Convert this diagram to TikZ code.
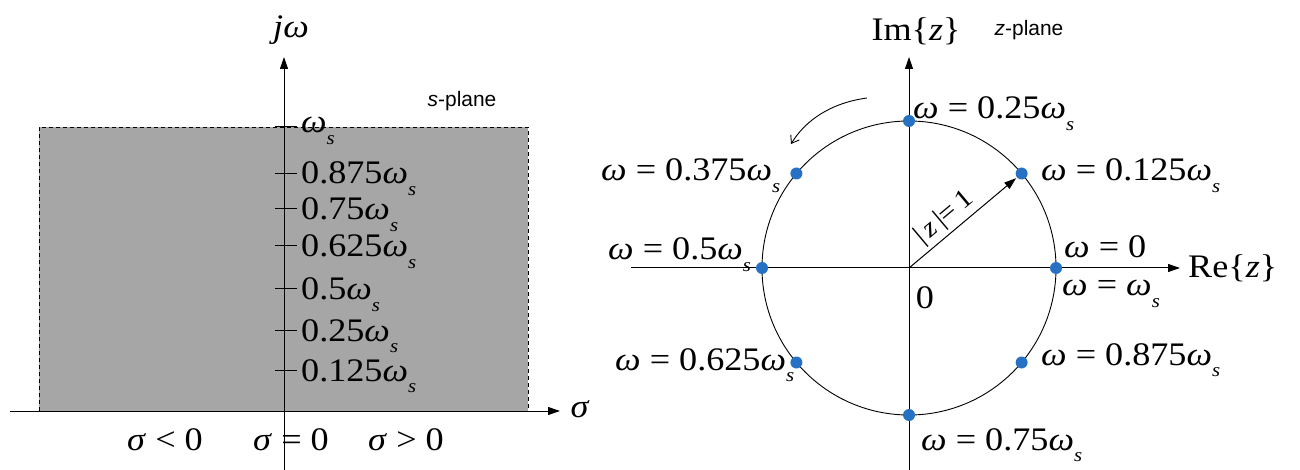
\documentclass[tikz,border=0pt]{standalone}
\usepackage{fontspec}
\setmainfont{Liberation Serif}[FakeStretch=1.1]
\newfontfamily\sansf{Liberation Sans}
\usetikzlibrary{arrows.meta}
\definecolor{dotblue}{RGB}{38,113,196}
\definecolor{planegray}{RGB}{166,166,166}
\newcommand\wsub{\textit{ω}\raisebox{-0.34em}{\fontsize{19}{19}\selectfont\textit{s}}}
\newcommand\wt{\textit{ω}}
\begin{document}
\begin{tikzpicture}[x=1bp,y={(0bp,-1bp)},
  lab/.style={font=\fontsize{33}{39}\selectfont, inner sep=0pt},
  small/.style={font=\sansf\fontsize{21}{25}\selectfont, inner sep=0pt},
  axis/.style={line width=1bp,-{Triangle[length=12bp,width=8bp]}},
  tickline/.style={line width=1bp},
  dot/.style={circle, fill=dotblue, minimum size=12bp, inner sep=0pt},
]
\useasboundingbox (0,0) rectangle (1300,470);
% ---------------- s-plane ----------------
\fill[planegray] (39,127) rectangle (528,411);
\draw[line width=0.8bp, dash pattern=on 4bp off 3bp] (39,411) -- (39,127) -- (528,127) -- (528,411);
\coordinate (sx0) at (10,411);
\coordinate (sx1) at (560,411);
\coordinate (sy0) at (284,470);
\coordinate (sy1) at (284,57);
\draw[axis] (sx0) -- (sx1);
\draw[axis] (sy0) -- (sy1);
\node[lab] (jw) at (291,30) {\textit{j}\wt};
\node[lab] (sig) at (580,409) {\textit{σ}};
\node[small] (splane) at (462,101) {\textit{s}-plane};
% ticks
\foreach \y/\nm in {127/ws,174/t875,209/t75,246/t625,289/t5,330/t25,370/t125}{
  \coordinate (a\nm) at (275,\y);
  \coordinate (b\nm) at (297,\y);
  \draw[tickline] (a\nm) -- (b\nm);
}
\node[lab, anchor=base west] (lws) at (301,133) {\wsub};
\node[lab, anchor=base west] (l875) at (301,184) {0.875\wsub};
\node[lab, anchor=base west] (l75) at (301,220) {0.75\wsub};
\node[lab, anchor=base west] (l625) at (301,257) {0.625\wsub};
\node[lab, anchor=base west] (l5) at (301,300) {0.5\wsub};
\node[lab, anchor=base west] (l25) at (301,341) {0.25\wsub};
\node[lab, anchor=base west] (l125) at (301,381) {0.125\wsub};
\node[lab] (slt) at (165,440) {\textit{σ} < 0};
\node[lab] (seq) at (291,440) {\textit{σ} = 0};
\node[lab] (sgt) at (406,440) {\textit{σ} > 0};
% ---------------- z-plane ----------------
\coordinate (O) at (909,268);
\coordinate (zx0) at (631,268);
\coordinate (zx1) at (1180,268);
\coordinate (zy0) at (909,470);
\coordinate (zy1) at (909,57);
\draw[axis] (zx0) -- (zx1);
\draw[axis] (zy0) -- (zy1);
\draw[line width=0.9bp] (O) circle[radius=147bp];
\node[lab] (im) at (916,31) {Im\{\textit{z}\}};
\node[small] (zplane) at (1029,30) {\textit{z}-plane};
\node[lab, anchor=west] (re) at (1188,268) {Re\{\textit{z}\}};
\node[lab] (zero) at (925,298) {0};
\node[dot] (d0) at (1056,268) {};
\node[dot] (d125) at (1021.6,173.5) {};
\node[dot] (d25) at (909,121) {};
\node[dot] (d375) at (796.4,173.5) {};
\node[dot] (d5) at (762,268) {};
\node[dot] (d625) at (796.4,362.5) {};
\node[dot] (d75) at (909,415) {};
\node[dot] (d875) at (1021.6,362.5) {};
\draw[axis, shorten >=1bp] (O) -- (d125)
  node[pos=0.42, sloped, above=3bp, font=\fontsize{27}{31}\selectfont, inner sep=0pt] (mag) {|\,\textit{z}\,|=\,1};
\coordinate (ca1) at (867,98);
\coordinate (ca2) at (791,144);
\draw[line width=0.9bp, -{Straight Barb[length=7bp,width=10bp]}] (ca1) .. controls (830,103) and (805,121) .. (ca2);
\node[lab, anchor=base west] (w25) at (913,119) {\wt\ = 0.25\wsub};
\node[lab, anchor=base west] (w125) at (1041,181) {\wt\ = 0.125\wsub};
\node[lab, anchor=base west] (w375) at (601,181) {\wt\ = 0.375\wsub};
\node[lab, anchor=base west] (w5) at (608,260) {\wt\ = 0.5\wsub};
\node[lab, anchor=base west] (w0) at (1064,258) {\wt\ = 0};
\node[lab, anchor=base west] (wws) at (1062,296) {\wt\ = \wsub};
\node[lab, anchor=base west] (w625) at (615,370) {\wt\ = 0.625\wsub};
\node[lab, anchor=base west] (w875) at (1041,365) {\wt\ = 0.875\wsub};
\node[lab, anchor=base west] (w75) at (921,450) {\wt\ = 0.75\wsub};
\end{tikzpicture}
\end{document}
